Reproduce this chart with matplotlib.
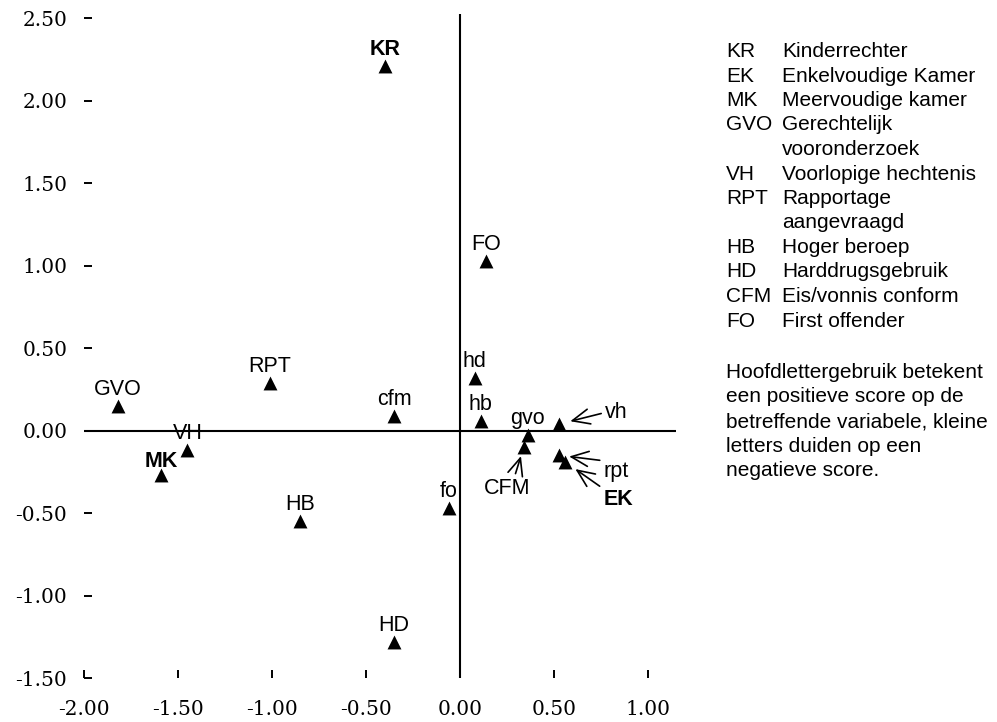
import matplotlib
matplotlib.use("Agg")
import matplotlib.pyplot as plt

plt.rcParams['axes.unicode_minus'] = False

# ---------------- data ----------------
point_labels = ['KR', 'FO', 'GVO', 'RPT', 'cfm', 'hd', 'hb', 'gvo', 'vh',
                'VH', 'MK', 'CFM', 'rpt', 'EK', 'HB', 'fo', 'HD']
point_x = [-0.40, 0.14, -1.82, -1.01, -0.35, 0.08, 0.11, 0.36, 0.53,
           -1.45, -1.59, 0.34, 0.53, 0.56, -0.85, -0.06, -0.35]
point_y = [2.21, 1.03, 0.15, 0.29, 0.09, 0.32, 0.06, -0.03, 0.04,
           -0.12, -0.27, -0.10, -0.15, -0.19, -0.55, -0.47, -1.28]
bold_labels = ['KR', 'MK', 'EK']

x_ticks = [-2.0, -1.5, -1.0, -0.5, 0.0, 0.5, 1.0]
x_tick_labels = ['-2.00', '-1.50', '-1.00', '-0.50', '0.00', '0.50', '1.00']
y_ticks = [-1.5, -1.0, -0.5, 0.0, 0.5, 1.0, 1.5, 2.0, 2.5]
y_tick_labels = ['-1.50', '-1.00', '-0.50', '0.00', '0.50', '1.00', '1.50', '2.00', '2.50']

legend_abbr = ['KR', 'EK', 'MK', 'GVO', 'VH', 'RPT', 'HB', 'HD', 'CFM', 'FO']
legend_desc = ['Kinderrechter', 'Enkelvoudige Kamer', 'Meervoudige kamer',
               'Gerechtelijk\nvooronderzoek', 'Voorlopige hechtenis',
               'Rapportage\naangevraagd', 'Hoger beroep', 'Harddrugsgebruik',
               'Eis/vonnis conform', 'First offender']
note_lines = ['Hoofdlettergebruik betekent', 'een positieve score op de',
              'betreffende variabele, kleine', 'letters duiden op een',
              'negatieve score.']

# ---------------- layout / style ----------------
W, H = 997, 722
fig = plt.figure(figsize=(W / 100, H / 100), dpi=100)
ax = fig.add_axes([84 / W, (H - 678) / H, (676 - 84) / W, (678 - 14) / H])
ax.set_xlim(-2.0, 1.15)
ax.set_ylim(-1.5, 2.525)
for s in ax.spines.values():
    s.set_visible(False)
ax.patch.set_visible(False)

ax.axhline(0, color='black', lw=1.5, zorder=1)
ax.axvline(0, color='black', lw=1.5, zorder=1)

ax.set_xticks(x_ticks)
ax.set_xticklabels(x_tick_labels)
ax.set_yticks(y_ticks)
ax.set_yticklabels(y_tick_labels)
ax.tick_params(axis='both', direction='in', length=5.8, width=1.4, color='black',
               labelsize=14.5)
ax.tick_params(axis='y', pad=12)
ax.tick_params(axis='x', pad=16)
for lab in ax.get_xticklabels() + ax.get_yticklabels():
    lab.set_fontfamily('DejaVu Serif')

ax.scatter(point_x, point_y, marker='^', s=10 ** 2, color='black',
           linewidths=0, zorder=3)

SANS = 'Liberation Sans'
FS_PT = 15.5
FS_LEG = 15

# label placement styles (offset points); default: centred above the marker
special = {
    'MK': dict(off=(0, 5.8), ha='center'),
    'vh': dict(off=(33, 4.3), ha='left', arrow=True, relpos=(0, 0.5), shrinkB=8),
    'rpt': dict(off=(32, -15.5), ha='left', arrow=True, relpos=(0, 1.0), shrinkB=7),
    'EK': dict(off=(27.7, -31), ha='left', arrow=True, relpos=(0, 1.0), shrinkB=9),
    'CFM': dict(off=(-11.9, -33.6), ha='center', arrow=True, relpos=(0.65, 1.0), shrinkB=6.8),
}

for lab, xv, yv in zip(point_labels, point_x, point_y):
    st = special.get(lab, dict(off=(0, 8.0), ha='center'))
    weight = 'bold' if lab in bold_labels else 'normal'
    kw = dict(xy=(xv, yv), xytext=st['off'], textcoords='offset points',
              ha=st['ha'], va='baseline', fontsize=FS_PT, family=SANS,
              fontweight=weight, zorder=4)
    if st.get('arrow'):
        kw['arrowprops'] = dict(arrowstyle='->,head_length=0.8,head_width=0.35',
                                lw=1.2, color='black', shrinkA=1,
                                shrinkB=st['shrinkB'], relpos=st['relpos'])
    ax.annotate(lab, **kw)

# ---------------- legend text on the right ----------------
abbr_x = 726 / W
desc_x = 782 / W
row = 0
base0 = 57.0
step = 24.5
for abbr, desc in zip(legend_abbr, legend_desc):
    fig.text(abbr_x, 1 - (base0 + step * row) / H, abbr, fontsize=FS_LEG,
             family=SANS, va='baseline', ha='left')
    for line in desc.split('\n'):
        fig.text(desc_x, 1 - (base0 + step * row) / H, line, fontsize=FS_LEG,
                 family=SANS, va='baseline', ha='left')
        row += 1

note0 = 378.0
for j, line in enumerate(note_lines):
    fig.text(abbr_x, 1 - (note0 + step * j) / H, line, fontsize=FS_LEG,
             family=SANS, va='baseline', ha='left')

fig.savefig('out.png', dpi=100)
